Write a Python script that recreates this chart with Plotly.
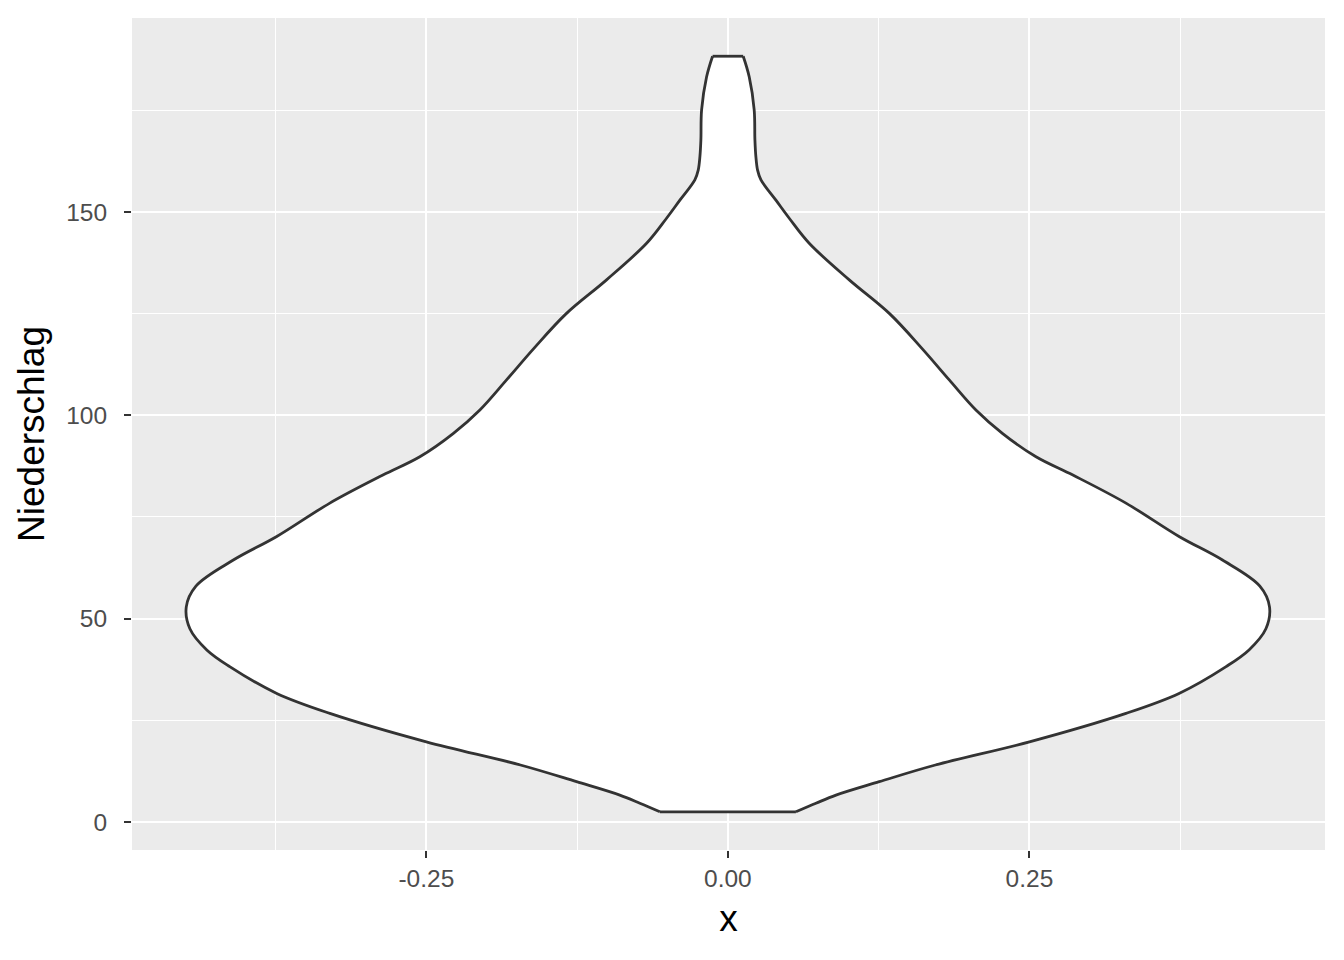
import plotly.graph_objects as go

# Violin outline: precipitation level and half-width of the density
niederschlag = [2.5, 4.6, 6.6, 9.9, 14.0, 19.7, 26.7, 31.6, 38.2, 42.3, 47.5, 52.9, 58.0,
                64.4, 70.2, 78.4, 85.3, 89.8, 95.5, 101.3, 108.7, 116.4, 125.0, 133.3,
                142.3, 148.4, 152.9, 157.9, 160.3, 163.6, 167.7, 175.1, 183.2, 188.3]
halbbreite = [0.0564, 0.073, 0.0896, 0.1255, 0.172, 0.250, 0.330, 0.374, 0.413, 0.432, 0.446, 0.449, 0.441,
              0.410, 0.374, 0.330, 0.286, 0.2554, 0.2278, 0.2056, 0.1835, 0.161, 0.134, 0.1006,
              0.0674, 0.051, 0.0398, 0.0274, 0.0246, 0.0232, 0.0224, 0.0218, 0.0177, 0.0127]

x_ticks = [-0.25, 0.0, 0.25]
x_ticktext = ["-0.25", "0.00", "0.25"]
y_ticks = [0, 50, 100, 150]
y_ticktext = ["0", "50", "100", "150"]

outline = dict(color="#333333", width=2.8, shape="spline", smoothing=1)
left_x = [-w for w in halbbreite]
right_x = list(halbbreite)

fig = go.Figure()
fig.add_trace(go.Scatter(
    x=left_x, y=niederschlag, mode="lines", line=outline,
    hoverinfo="skip", showlegend=False,
))
fig.add_trace(go.Scatter(
    x=right_x, y=niederschlag, mode="lines", line=outline,
    fill="tonextx", fillcolor="white",
    hoverinfo="skip", showlegend=False,
))
# flat bottom and top edges of the violin
fig.add_trace(go.Scatter(
    x=[left_x[0], right_x[0], None, left_x[-1], right_x[-1]],
    y=[niederschlag[0], niederschlag[0], None, niederschlag[-1], niederschlag[-1]],
    mode="lines", line=dict(color="#333333", width=2.8),
    hoverinfo="skip", showlegend=False,
))

font_family = "Liberation Sans, Arial, sans-serif"
fig.update_layout(
    width=1344, height=960,
    margin=dict(l=132, r=19, t=18, b=110),
    paper_bgcolor="white", plot_bgcolor="#EBEBEB",
    font=dict(family=font_family, color="#000000"),
    showlegend=False,
)
fig.update_xaxes(
    range=[-0.494, 0.495], tickvals=x_ticks, ticktext=x_ticktext,
    showgrid=True, gridcolor="white", gridwidth=2.2, zeroline=False,
    ticks="outside", ticklen=7, tickwidth=2, tickcolor="#333333",
    tickfont=dict(size=24.5, color="#4D4D4D", family=font_family),
    minor=dict(tickvals=[-0.375, -0.125, 0.125, 0.375], showgrid=True, gridcolor="white", gridwidth=1.1, ticks=""),
    title=dict(text="x", font=dict(size=37, color="#000000", family=font_family), standoff=13),
    showline=False,
)
fig.update_yaxes(
    range=[-6.9, 197.7], tickvals=y_ticks, ticktext=y_ticktext,
    showgrid=True, gridcolor="white", gridwidth=2.2, zeroline=False,
    ticks="outside", ticklen=7, tickwidth=2, tickcolor="#333333",
    tickfont=dict(size=24.5, color="#4D4D4D", family=font_family),
    ticklabelstandoff=12,
    minor=dict(tickvals=[25, 75, 125, 175], showgrid=True, gridcolor="white", gridwidth=1.1, ticks=""),
    title=dict(text="Niederschlag", font=dict(size=37, color="#000000", family=font_family), standoff=10),
    showline=False,
)

fig.write_html("out.html", config={"displayModeBar": False},
               post_script="document.body.style.margin='0px';")
